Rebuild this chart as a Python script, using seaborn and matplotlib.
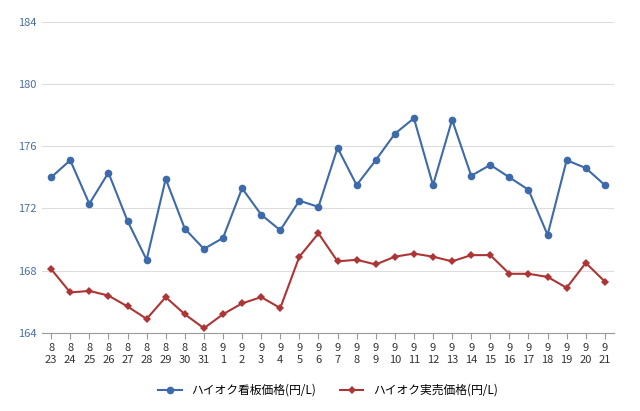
import matplotlib
matplotlib.use("Agg")
import matplotlib.pyplot as plt
import seaborn as sns
import pandas as pd

months = ["8"]*9 + ["9"]*21
days = [str(d) for d in range(23, 32)] + [str(d) for d in range(1, 22)]
kanban = [174.0,175.1,172.3,174.3,171.2,168.7,173.9,170.7,169.4,170.1,173.3,171.6,170.6,172.5,172.1,
          175.9,173.5,175.1,176.8,177.8,173.5,177.7,174.1,174.8,174.0,173.2,170.3,175.1,174.6,173.5]
jitsubai = [168.1,166.6,166.7,166.4,165.7,164.9,166.3,165.2,164.3,165.2,165.9,166.3,165.6,168.9,170.4,
            168.6,168.7,168.4,168.9,169.1,168.9,168.6,169.0,169.0,167.8,167.8,167.6,166.9,168.5,167.3]
yticks = [164,168,172,176,180,184]

plt.rcParams["font.family"] = "Noto Sans CJK JP"
fig = plt.figure(figsize=(6.4,4.11), dpi=100)
ax = fig.add_axes([0.065, 0.19, 0.895, 0.757])
x = list(range(len(days)))
df = pd.DataFrame({"x": x, "k": kanban, "j": jitsubai})
blue = "#3d6aaa"; red = "#ad3536"
sns.lineplot(data=df, x="x", y="k", ax=ax, color=blue, marker="o", markersize=5.5,
             markeredgewidth=0, lw=1.5, label="ハイオク看板価格(円/L)")
sns.lineplot(data=df, x="x", y="j", ax=ax, color=red, marker="D", markersize=4.5,
             markeredgewidth=0, lw=1.5, label="ハイオク実売価格(円/L)")
ax.set_ylim(164, 184)
ax.set_yticks(yticks)
ax.set_yticklabels([str(t) for t in yticks], color="#4a6fa5", fontsize=8)
ax.set_xlim(-0.5, len(days)-0.5)
ax.set_xticks(x)
ax.set_xticklabels([m+"\n"+d for m, d in zip(months, days)], fontsize=8, color="#333333")
ax.grid(axis="y", color="#dddddd", lw=0.8)
ax.set_axisbelow(True)
for s in ["top","right","left"]:
    ax.spines[s].set_visible(False)
ax.spines["bottom"].set_color("#999999")
ax.tick_params(axis="y", length=0)
ax.tick_params(axis="x", length=4, color="#999999")
ax.set_xlabel(""); ax.set_ylabel("")
ax.legend(loc="upper center", bbox_to_anchor=(0.5, -0.13), ncol=2, frameon=False, fontsize=8.5)
fig.savefig("out.png", dpi=100)
